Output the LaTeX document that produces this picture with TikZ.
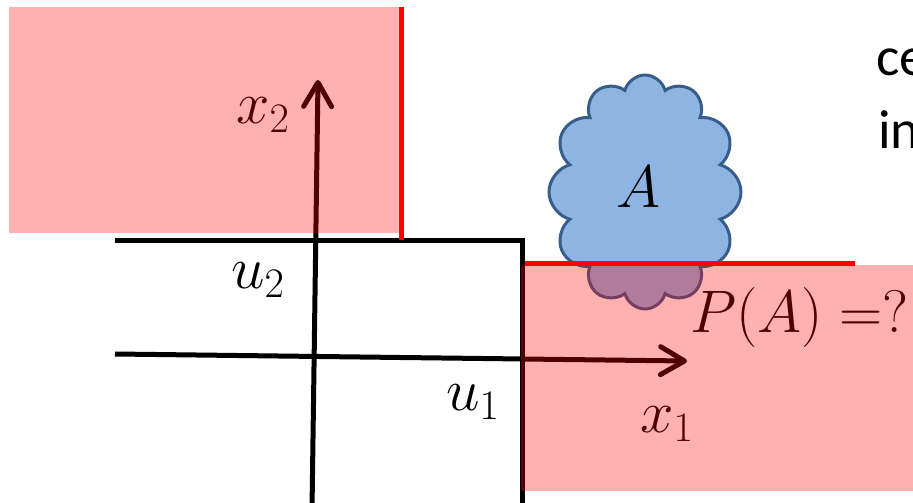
\RequirePackage{fix-cm}
\documentclass[tikz,border=0pt]{standalone}
\usepackage{fontspec}
\usepackage{tikz}
\usetikzlibrary{arrows.meta, shapes.symbols}
\newfontfamily\slidefont{Carlito}
\definecolor{cloudfill}{RGB}{142,180,227}
\definecolor{cloudedge}{RGB}{56,93,138}
\tikzset{
  axis/.style={line width=5pt, color=black},
  axisarrow/.style={-{Straight Barb[length=24pt,width=28pt,round]}, line width=5pt, color=black},
  region/.style={fill=red, opacity=0.31},
  boundary/.style={line width=5pt, color=red},
  event/.style={cloud, cloud puffs=12, aspect=0.8, draw=cloudedge, fill=cloudfill,
    line width=3pt, minimum width=192pt, minimum height=234pt, inner sep=0pt},
  mathlbl/.style={font=\fontsize{60}{60}\selectfont, inner sep=0pt, anchor=base west},
  slidetxt/.style={font=\slidefont\fontsize{55}{55}\selectfont, inner sep=0pt, anchor=base west}
}

\begin{document}
\begin{tikzpicture}[x=1pt, y=-1pt]
  \useasboundingbox (0,0) rectangle (913,503);
  \clip (0,0) rectangle (913,503);
  % corner of the square
  \coordinate (u2left) at (115,240);
  \coordinate (corner) at (522,240);
  \coordinate (u1foot) at (522,510);
  \draw[axis, line join=miter] (u2left) -- (corner) -- (u1foot);
  % axes
  \coordinate (x1left) at (115,354);
  \coordinate (x1tip) at (687,361);
  \coordinate (x2foot) at (312,510);
  \coordinate (x2tip) at (318,80);
  \draw[axisarrow] (x1left) -- (x1tip);
  \draw[axisarrow] (x2foot) -- (x2tip);
  % event A
  \node[event] (evtA) at (645,192) {};
  \node[mathlbl] (lblA) at (616,207) {$A$};
  % labels
  \node[mathlbl] (lblx2) at (236,123) {$x_2$};
  \node[mathlbl] (lblu2) at (231,288) {$u_2$};
  \node[mathlbl] (lblu1) at (446,410) {$u_1$};
  \node[mathlbl] (lblx1) at (640,432) {$x_1$};
  \node[mathlbl] (lblPA) at (690,332) {$P(A)=?$};
  % shaded regions
  \fill[region] (9,7) rectangle (400,233);
  \fill[region] (521,265) rectangle (920,491);
  % boundaries
  \draw[boundary] (401,7) -- (401,240);
  \draw[boundary] (525,263) -- (855,263);
  % slide text
  \node[slidetxt] (txtce) at (876,75) {ce};
  \node[slidetxt] (txtin) at (878,148) {in};
\end{tikzpicture}
\end{document}
